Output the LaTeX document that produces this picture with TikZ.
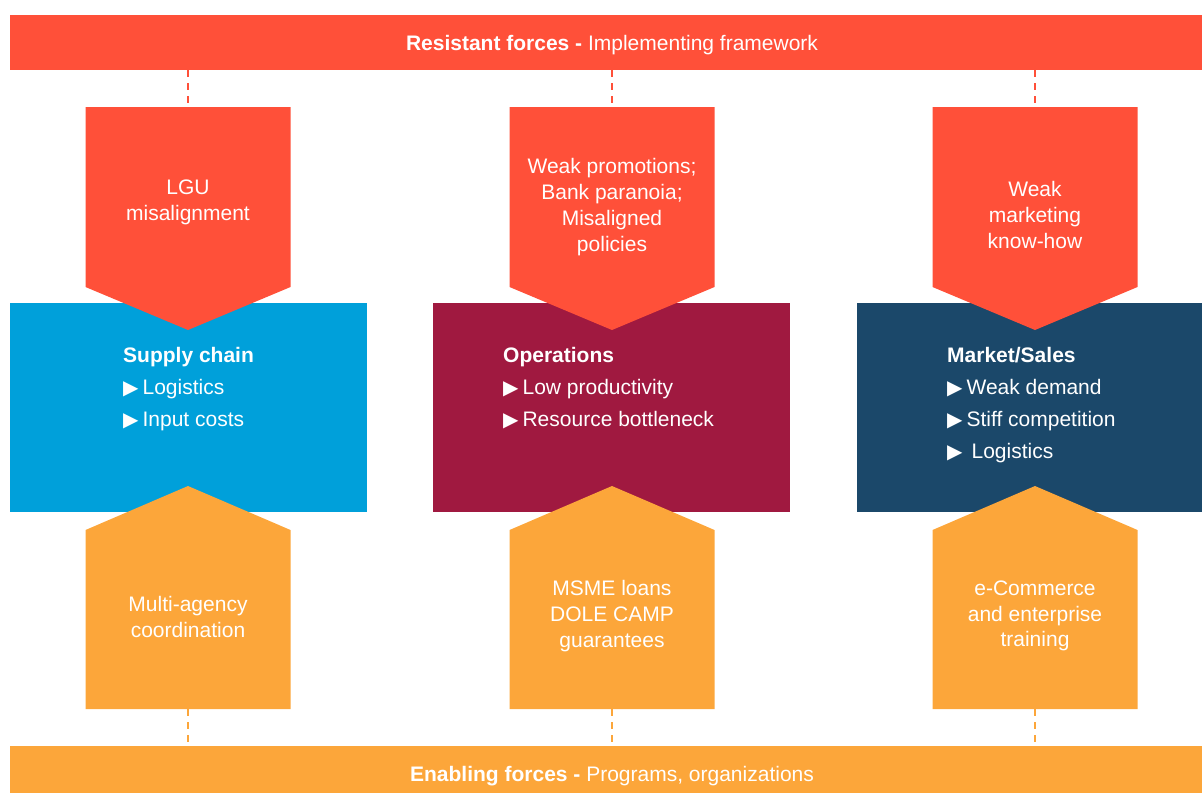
\documentclass[tikz,border=0pt]{standalone}
\usepackage{fontspec}
\setmainfont{Liberation Sans}
\newfontfamily\symfont{DejaVu Sans}
\definecolor{cred}{RGB}{255,80,57}
\definecolor{corange}{RGB}{252,166,58}
\definecolor{cblue}{RGB}{0,160,218}
\definecolor{cmaroon}{RGB}{160,25,64}
\definecolor{cnavy}{RGB}{27,72,106}
\newcommand{\bul}{{\symfont\fontsize{20}{20}\selectfont ▶}\hspace{4pt}}
\tikzset{
  lbl/.style={text=white, font=\fontsize{21}{25.8}\selectfont, align=center, inner sep=0pt},
  itm/.style={text=white, font=\fontsize{21}{25.8}\selectfont, anchor=base west, inner sep=0pt},
  dashr/.style={draw=cred, line width=1.8pt, dash pattern=on 7pt off 6pt},
  dasho/.style={draw=corange, line width=1.8pt, dash pattern=on 7pt off 6pt},
}
\begin{document}
\begin{tikzpicture}[x=1pt,y=-1pt]
\useasboundingbox (0,0) rectangle (1202,793);
% banners
\fill[cred] (10,15) rectangle (1214,70);
\node[lbl] (topban) at (612,45) {\textbf{Resistant forces -} Implementing framework};
\fill[corange] (10,746) rectangle (1214,793);
\node[lbl] (botban) at (612,776.5) {\textbf{Enabling forces -} Programs, organizations};
% dashed connectors
\foreach \c/\n in {188/a,612/b,1035/c}{
  \coordinate (ts\n) at (\c,70);
  \coordinate (te\n) at (\c,107);
  \coordinate (bs\n) at (\c,709);
  \coordinate (be\n) at (\c,746);
  \draw[dashr] (ts\n) -- (te\n);
  \draw[dasho] (bs\n) -- (be\n);
}
% middle boxes
\fill[cblue] (10,303) rectangle (367,512);
\fill[cmaroon] (433,303) rectangle (790,512);
\fill[cnavy] (857,303) rectangle (1214,512);
% pentagons
\foreach \c in {188,612,1035}{
  \fill[cred] (\c-102.5,107) -- (\c+102.5,107) -- (\c+102.5,287) -- (\c,330) -- (\c-102.5,287) -- cycle;
  \fill[corange] (\c,486) -- (\c+102.5,530) -- (\c+102.5,709) -- (\c-102.5,709) -- (\c-102.5,530) -- cycle;
}
% top labels
\node[lbl] (r1) at (188,202) {LGU\\misalignment};
\node[lbl] (r2) at (612,207) {Weak promotions;\\Bank paranoia;\\Misaligned\\policies};
\node[lbl] (r3) at (1035,215) {Weak\\marketing\\know-how};
% bottom labels
\node[lbl] (o1) at (188,617) {Multi-agency\\coordination};
\node[lbl] (o2) at (612,616) {MSME loans\\DOLE CAMP\\guarantees};
\node[lbl] (o3) at (1035,616) {e-Commerce\\and enterprise\\training};
% box items
\node[itm] (s0) at (123,362) {\textbf{Supply chain}};
\node[itm] (s1) at (123,394) {\bul Logistics};
\node[itm] (s2) at (123,426) {\bul Input costs};
\node[itm] (p0) at (503,362) {\textbf{Operations}};
\node[itm] (p1) at (503,394) {\bul Low productivity};
\node[itm] (p2) at (503,426) {\bul Resource bottleneck};
\node[itm] (m0) at (947,362) {\textbf{Market/Sales}};
\node[itm] (m1) at (947,394) {\bul Weak demand};
\node[itm] (m2) at (947,426) {\bul Stiff competition};
\node[itm] (m3) at (947,458) {\bul\hspace{5pt}Logistics};
\end{tikzpicture}
\end{document}
